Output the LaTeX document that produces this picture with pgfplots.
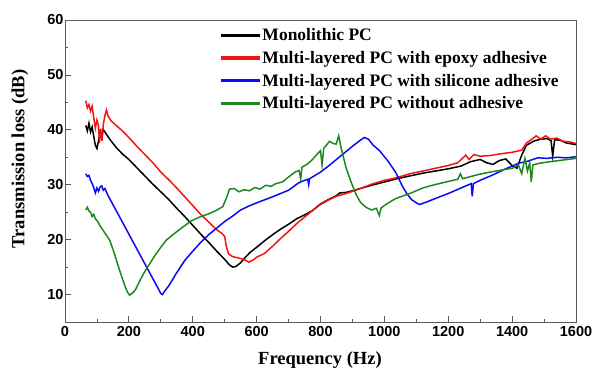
\documentclass[border=0pt]{standalone}
\usepackage{fontspec}
\setmainfont{Liberation Serif}
\setsansfont{Liberation Sans}
\usepackage{pgfplots}
\pgfplotsset{compat=1.18}
\definecolor{myred}{RGB}{240,20,20}
\definecolor{myblue}{RGB}{10,10,245}
\definecolor{mygreen}{RGB}{30,135,30}
\definecolor{axgray}{RGB}{90,90,90}
\begin{document}
\begin{tikzpicture}
\begin{axis}[
  scale only axis, width=511pt, height=302pt,
  xmin=0, xmax=1600, ymin=5, ymax=60,
  xtick={0,200,...,1600}, ytick={10,20,...,60},
  minor xtick={100,300,...,1500}, minor ytick={5,15,...,55},
  tick align=inside, xtick pos=bottom, ytick pos=left,
  major tick length=6pt, minor tick length=3pt,
  axis line style={axgray, line width=0.8pt},
  every tick/.style={axgray, line width=0.8pt},
  /pgf/number format/assume math mode=true,
  /pgf/number format/1000 sep={},
  ticklabel style={font=\sffamily\bfseries\fontsize{14.5}{15}\selectfont},
  xticklabel style={yshift=-1pt},
  yticklabel style={xshift=2pt},
  xlabel={Frequency (Hz)}, ylabel={Transmission loss (dB)},
  label style={font=\bfseries\fontsize{18.5}{20}\selectfont},
  xlabel style={at={(axis description cs:0.499,-0.142)}, anchor=base},
  ylabel style={at={(axis description cs:-0.088,0.54)}, anchor=center},
  legend style={draw=none, fill=none, at={(axis description cs:0.299,0.995)}, anchor=north west,
    font=\bfseries\fontsize{17.5}{20}\selectfont,
    nodes={inner xsep=2pt, inner ysep=4.6pt},
    /tikz/every even column/.append style={column sep=3pt}},
  legend cell align=left,
  legend image code/.code={\fill[#1] (0pt,-0.8pt) rectangle (38pt,0.8pt);},
  every axis plot/.append style={line width=1.5pt},
]
\addplot[black] coordinates {(65,40.8)(70,39.8)(75,41.2)(80,39.6)(85,40.5)(90,38.8)(95,37.2)(100,36.6)(105,38.0)(110,39.5)(115,39.0)(120,40.0)(125,39.6)(140,38.3)(160,36.8)(180,35.6)(200,34.6)(225,33.1)(250,31.6)(275,30.1)(300,28.7)(325,27.3)(350,25.7)(375,24.2)(400,22.6)(425,21.0)(450,19.5)(475,17.9)(500,16.4)(515,15.4)(525,15.0)(535,15.1)(550,15.8)(565,16.8)(580,17.7)(600,18.6)(625,19.8)(650,20.9)(675,21.9)(700,22.8)(725,23.8)(750,24.5)(775,25.3)(800,26.5)(825,27.3)(850,28.0)(860,28.5)(880,28.6)(900,28.9)(930,29.4)(960,29.9)(1000,30.5)(1040,31.1)(1080,31.6)(1120,32.1)(1160,32.5)(1200,32.9)(1240,33.4)(1270,34.2)(1300,34.6)(1320,34.0)(1340,33.7)(1360,34.4)(1380,34.7)(1400,33.5)(1415,33.0)(1430,35.4)(1445,37.2)(1470,38.0)(1490,38.3)(1510,38.4)(1522,38.0)(1527,35.2)(1533,38.2)(1550,38.1)(1570,37.6)(1600,37.3)};
\addlegendentry{Monolithic PC}
\addplot[myred] coordinates {(65,45.3)(70,44.0)(75,44.6)(80,43.4)(85,44.3)(90,42.2)(95,40.3)(100,41.8)(105,40.8)(108,37.6)(112,40.2)(116,38.0)(120,41.0)(125,42.6)(130,43.6)(135,42.5)(145,41.6)(160,40.8)(180,39.8)(200,38.6)(225,37.0)(250,35.5)(275,34.0)(300,32.3)(325,30.9)(350,29.4)(375,27.8)(400,26.2)(425,24.6)(450,23.2)(475,21.8)(490,21.2)(500,20.6)(505,18.8)(512,17.4)(525,16.9)(540,16.7)(560,16.4)(575,15.9)(590,16.3)(600,16.8)(625,17.5)(650,18.8)(675,20.2)(700,21.5)(725,22.9)(750,24.1)(775,25.3)(800,26.4)(825,27.2)(850,27.9)(880,28.4)(920,29.2)(960,30.1)(1000,30.8)(1040,31.3)(1080,32.0)(1120,32.5)(1160,33.0)(1200,33.5)(1230,34.0)(1255,35.4)(1265,34.6)(1280,35.5)(1300,35.2)(1330,35.3)(1360,35.6)(1400,35.9)(1430,36.3)(1445,37.6)(1460,38.2)(1475,38.9)(1490,38.3)(1505,38.9)(1520,38.3)(1540,38.5)(1560,37.9)(1580,37.8)(1600,37.5)};
\addlegendentry{Multi-layered PC with epoxy adhesive}
\addplot[myblue] coordinates {(65,32.0)(70,31.5)(75,31.7)(80,30.8)(85,30.2)(90,29.5)(95,28.5)(100,29.4)(105,28.8)(110,29.6)(115,29.8)(120,29.0)(125,29.3)(135,28.0)(150,26.4)(175,23.7)(200,21.0)(225,18.3)(250,15.6)(275,12.9)(290,11.3)(300,10.2)(305,10.0)(312,10.6)(325,11.6)(350,14.0)(375,16.2)(400,17.9)(425,19.5)(450,20.9)(475,22.1)(500,23.3)(525,24.3)(550,25.4)(575,26.1)(600,26.7)(650,27.8)(700,29.0)(733,30.4)(760,31.0)(763,30.0)(766,31.1)(800,32.3)(825,33.4)(850,34.6)(875,35.8)(900,37.0)(920,37.9)(937,38.6)(950,38.3)(965,37.2)(985,36.2)(1010,34.4)(1035,32.3)(1055,29.9)(1070,28.4)(1085,27.3)(1100,26.7)(1110,26.4)(1130,26.8)(1160,27.5)(1200,28.4)(1240,29.4)(1260,29.9)(1272,30.2)(1275,27.9)(1279,30.2)(1300,30.8)(1340,31.8)(1380,32.9)(1420,33.9)(1450,34.3)(1480,34.9)(1510,34.8)(1540,35.0)(1570,34.9)(1600,35.1)};
\addlegendentry{Multi-layered PC with silicone adhesive}
\addplot[mygreen] coordinates {(65,25.4)(70,25.9)(75,25.2)(80,25.0)(85,24.2)(90,24.6)(95,23.8)(100,23.5)(110,22.5)(125,21.2)(140,19.9)(155,17.4)(171,14.4)(185,12.0)(195,10.5)(202,9.9)(210,10.2)(220,10.8)(235,12.6)(250,14.2)(265,15.6)(285,17.4)(300,18.6)(317,19.9)(340,21.0)(369,22.3)(395,23.4)(421,24.1)(450,24.7)(473,25.3)(494,26.0)(505,27.5)(515,29.2)(530,29.3)(545,28.7)(560,29.1)(577,28.9)(595,29.5)(610,29.2)(629,29.9)(645,29.7)(660,30.2)(681,30.5)(700,31.4)(720,32.3)(733,32.6)(738,31.0)(742,33.2)(760,33.8)(775,34.6)(790,35.6)(800,36.2)(805,33.6)(810,36.6)(828,37.9)(840,37.5)(849,37.4)(857,38.9)(865,36.6)(880,33.1)(895,30.6)(911,28.3)(925,26.8)(942,25.9)(960,25.4)(975,25.7)(984,24.4)(990,25.8)(1010,26.6)(1036,27.5)(1060,28.0)(1088,28.6)(1120,29.4)(1150,29.9)(1193,30.5)(1230,31.0)(1238,32.0)(1245,31.1)(1297,31.9)(1340,32.4)(1380,32.8)(1401,33.0)(1420,33.6)(1430,32.0)(1440,34.8)(1448,32.5)(1455,34.0)(1460,30.5)(1465,33.6)(1484,33.9)(1520,34.2)(1560,34.5)(1600,34.8)};
\addlegendentry{Multi-layered PC without adhesive}
\end{axis}
\pgfresetboundingbox
\path (-65pt,-49pt) rectangle (529pt,322pt);
\end{tikzpicture}
\end{document}
